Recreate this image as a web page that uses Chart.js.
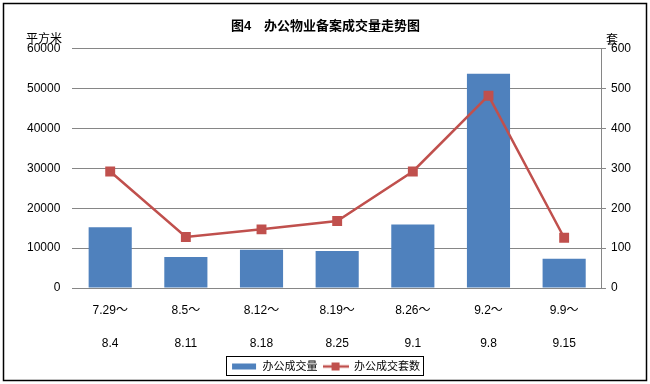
<!DOCTYPE html>
<html><head><meta charset="utf-8">
<script src="https://cdn.jsdelivr.net/npm/chart.js@4/dist/chart.umd.min.js"></script>
<style>html,body{margin:0;padding:0;background:#fff}#wrap{position:relative;width:650px;height:384px}</style>
</head><body><div id="wrap"><canvas id="c" width="650" height="384"></canvas></div>
<script>
const chartTitle = "图4　办公物业备案成交量走势图";
const leftUnit = "平方米";
const rightUnit = "套";
const categories = [["7.29～","8.4"],["8.5～","8.11"],["8.12～","8.18"],["8.19～","8.25"],["8.26～","9.1"],["9.2～","9.8"],["9.9～","9.15"]];
const areaLabel = "办公成交量";
const areaValues = [15200, 7800, 9600, 9300, 15900, 53700, 7300];
const unitLabel = "办公成交套数";
const unitValues = [292, 128, 147, 168, 292, 482, 126];
const leftMax = 60000, leftStep = 10000;
const rightMax = 600, rightStep = 100;

const FONT = '"Liberation Sans","Noto Sans CJK SC",sans-serif';
const BLUE = '#4F81BD', RED = '#C0504D', GRID = '#868686';

function mkIcon(kind){
  const c = document.createElement('canvas');
  c.width = 26; c.height = 10;
  const x = c.getContext('2d');
  if (kind === 'bar') { x.fillStyle = BLUE; x.fillRect(1, 2, 24, 6); }
  else {
    x.strokeStyle = RED; x.lineWidth = 2.5;
    x.beginPath(); x.moveTo(0, 5); x.lineTo(26, 5); x.stroke();
    x.fillStyle = RED; x.fillRect(9, 1, 8, 8);
  }
  return c;
}
const icons = [mkIcon('bar'), mkIcon('line')];

const framePlugin = {
  id: 'frame',
  afterDraw(chart) {
    const ctx = chart.ctx;
    ctx.save();
    ctx.strokeStyle = '#000'; ctx.lineWidth = 1.5;
    ctx.strokeRect(3.5, 3.5, 643, 377);
    const lg = chart.legend;
    if (lg && lg.legendHitBoxes && lg.legendHitBoxes.length) {
      const hb = lg.legendHitBoxes;
      let l = Infinity, r = -Infinity, t = Infinity, b = -Infinity;
      hb.forEach(h => { l = Math.min(l, h.left); r = Math.max(r, h.left + h.width); t = Math.min(t, h.top); b = Math.max(b, h.top + h.height); });
      ctx.lineWidth = 1;
      ctx.strokeRect(Math.round(l) - 4.5, Math.round(t) - 4.5, Math.round(r - l) + 8, Math.round(b - t) + 8);
    }
    ctx.fillStyle = '#000';
    ctx.font = '12px ' + FONT;
    ctx.textBaseline = 'middle';
    ctx.textAlign = 'left';
    ctx.fillText(leftUnit, 26, 40);
    ctx.fillText(rightUnit, 606, 41);
    ctx.restore();
  }
};

const plain = v => String(v);

new Chart(document.getElementById('c'), {
  data: {
    labels: categories,
    datasets: [
      { type: 'line', label: unitLabel, data: unitValues, yAxisID: 'y1', borderColor: RED, backgroundColor: RED,
        borderWidth: 2.5, pointStyle: 'rect', pointRadius: 7, pointHoverRadius: 7, pointBackgroundColor: RED, pointBorderWidth: 0, tension: 0, order: 1 },
      { type: 'bar', label: areaLabel, data: areaValues, yAxisID: 'y', backgroundColor: BLUE, barPercentage: 0.57, categoryPercentage: 1, order: 2 }
    ]
  },
  options: {
    responsive: false, animation: false,
    layout: { padding: { left: 15, right: 14, top: 0, bottom: 2 } },
    plugins: {
      title: { display: true, text: chartTitle, color: '#000', font: { family: FONT, size: 13, weight: 'bold' }, padding: { top: 19, bottom: 14 } },
      tooltip: { enabled: false },
      legend: {
        position: 'bottom',
        labels: {
          color: '#000', font: { family: FONT, size: 11 }, usePointStyle: true, pointStyleWidth: 26, boxHeight: 10, padding: 5,
          generateLabels(chart) {
            return [
              { text: areaLabel, pointStyle: icons[0], datasetIndex: 1, fontColor: '#000', lineWidth: 0 },
              { text: unitLabel, pointStyle: icons[1], datasetIndex: 0, fontColor: '#000', lineWidth: 0 }
            ];
          }
        }
      }
    },
    scales: {
      x: {
        grid: { display: false, drawTicks: false },
        border: { display: true, color: GRID, width: 1 },
        afterFit(s) { s.height = 68; },
        ticks: { color: '#000', font: { family: FONT, size: 12, lineHeight: 2.75 }, padding: 6, maxRotation: 0, autoSkip: false }
      },
      y: {
        position: 'left', min: 0, max: leftMax,
        grid: { color: GRID, drawTicks: false },
        border: { display: false },
        ticks: { stepSize: leftStep, color: '#000', font: { family: FONT, size: 12 }, padding: 12, callback: plain }
      },
      y1: {
        position: 'right', min: 0, max: rightMax,
        grid: { drawOnChartArea: false, color: GRID, tickLength: 4 },
        border: { display: true, color: GRID },
        ticks: { stepSize: rightStep, color: '#000', font: { family: FONT, size: 12 }, padding: 5, callback: plain }
      }
    }
  },
  plugins: [framePlugin]
});
</script></body></html>
